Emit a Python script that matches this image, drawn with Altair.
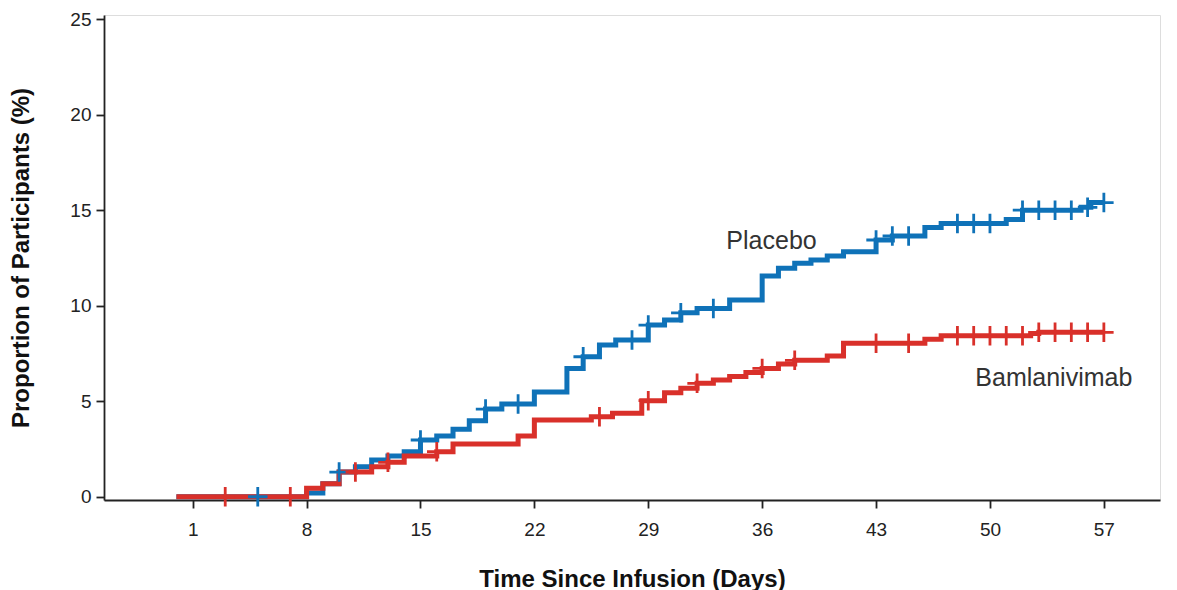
import altair as alt
import pandas as pd

# ---- data ----
placebo_days = [0, 8, 9, 10, 11, 12, 13, 14, 15, 16, 17, 18, 19, 20, 22, 24, 25, 26, 27, 29, 30, 31, 32, 34,
                36, 37, 38, 39, 40, 41, 43, 44, 46, 47, 51, 52, 55.6, 56.2, 57]
placebo_vals = [0, 0.19, 0.68, 1.29, 1.57, 1.92, 2.13, 2.36, 2.97, 3.18, 3.53, 3.98, 4.59, 4.85, 5.48, 6.72,
                7.33, 7.94, 8.2, 8.99, 9.25, 9.63, 9.86, 10.3, 11.55, 11.96, 12.22, 12.39, 12.6, 12.83, 13.44,
                13.65, 14.1, 14.31, 14.52, 15.0, 15.15, 15.4, 15.4]
placebo_censor = [5, 10, 15, 19, 21, 25, 28, 29, 31, 33, 43, 44, 45, 48, 49, 50, 52, 53, 54, 55, 56, 57]

bam_days = [0, 8, 9, 10, 12, 13, 14, 16, 17, 21, 22, 25.5, 26.8, 28.6, 30, 31, 32, 33, 34, 35, 36, 37, 38,
            40, 41, 46, 47, 52.5, 53, 57]
bam_vals = [0, 0.44, 0.68, 1.29, 1.57, 1.8, 2.13, 2.36, 2.76, 3.18, 4.02, 4.19, 4.37, 5.03, 5.45, 5.68, 5.94,
            6.11, 6.3, 6.5, 6.72, 6.95, 7.14, 7.37, 8.03, 8.24, 8.43, 8.55, 8.61, 8.61]
bam_censor = [3, 7, 11, 13, 16, 26, 29, 32, 36, 38, 43, 45, 48, 49, 50, 51, 52, 53, 54, 55, 56, 57]

x_ticks = [1, 8, 15, 22, 29, 36, 43, 50, 57]
y_ticks = [0, 5, 10, 15, 20, 25]

label_text = ["Placebo", "Bamlanivimab"]
label_day = [33.8, 49.1]
label_val = [13.4, 6.2]

BLUE = "#0F72B8"
RED = "#D9302A"


def value_at(days, vals, d):
    v = vals[0]
    for dd, vv in zip(days, vals):
        if dd <= d:
            v = vv
    return v


lines = pd.DataFrame(
    [{"group": "Placebo", "day": d, "val": v} for d, v in zip(placebo_days, placebo_vals)]
    + [{"group": "Bamlanivimab", "day": d, "val": v} for d, v in zip(bam_days, bam_vals)]
)
censors = pd.DataFrame(
    [{"group": "Placebo", "day": d, "val": value_at(placebo_days, placebo_vals, d)} for d in placebo_censor]
    + [{"group": "Bamlanivimab", "day": d, "val": value_at(bam_days, bam_vals, d)} for d in bam_censor]
)
labels = pd.DataFrame({"text": label_text, "day": label_day, "val": label_val})

xscale = alt.Scale(domain=[-4.45, 60.45], nice=False, zero=False)
yscale = alt.Scale(domain=[-0.17, 25.22], nice=False, zero=False)
color = alt.Color("group:N", scale=alt.Scale(domain=["Placebo", "Bamlanivimab"], range=[BLUE, RED]), legend=None)

xaxis = alt.Axis(values=x_ticks, title="Time Since Infusion (Days)", grid=False, tickSize=8,
                 labelPadding=12, titlePadding=28, labelFontSize=19, titleFontSize=24,
                 titleFontWeight="bold", domainColor="#222", tickColor="#222", labelColor="#222",
                 titleColor="#111", domainWidth=1.8, tickWidth=1.8, labelFont="Liberation Sans",
                 titleFont="Liberation Sans")
yaxis = alt.Axis(values=y_ticks, title="Proportion of Participants (%)", grid=False, tickSize=8,
                 labelPadding=5, titlePadding=36, labelFontSize=19, titleFontSize=24,
                 titleFontWeight="bold", domainColor="#222", tickColor="#222", labelColor="#222",
                 titleColor="#111", domainWidth=1.8, tickWidth=1.8, labelFont="Liberation Sans",
                 titleFont="Liberation Sans")

base_x = alt.X("day:Q", scale=xscale, axis=xaxis)
base_y = alt.Y("val:Q", scale=yscale, axis=yaxis)

line_pl = alt.Chart(lines).transform_filter(alt.datum.group == "Placebo").mark_line(
    interpolate="step-after", strokeWidth=5, strokeJoin="miter", strokeCap="butt"
).encode(x=base_x, y=base_y, color=color)
line_bm = alt.Chart(lines).transform_filter(alt.datum.group == "Bamlanivimab").mark_line(
    interpolate="step-after", strokeWidth=5, strokeJoin="miter", strokeCap="butt"
).encode(x="day:Q", y="val:Q", color=color)

cens = alt.Chart(censors).mark_point(
    shape="M-1,0H1M0,-1V1", size=380, filled=False, strokeWidth=2.8, opacity=1
).encode(x="day:Q", y="val:Q", color=color)

txt = alt.Chart(labels).mark_text(
    align="left", baseline="middle", fontSize=25, font="Liberation Sans", color="#333"
).encode(x="day:Q", y="val:Q", text="text:N")

chart = alt.layer(line_pl, line_bm, cens, txt).properties(
    width=1056, height=485,
    autosize=alt.AutoSizeParams(type="none"),
    padding={"left": 104, "top": 15, "right": 17, "bottom": 90},
).configure_view(stroke=None).configure(background="white")

chart.save("out.html", embed_options={"renderer": "svg", "actions": False})
